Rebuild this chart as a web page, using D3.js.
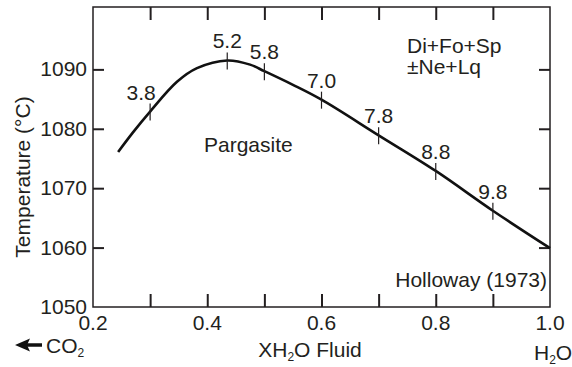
<!DOCTYPE html>
<html><head><meta charset="utf-8">
<script src="https://cdn.jsdelivr.net/npm/d3@7"></script>
<style>
html,body{margin:0;padding:0;background:#fff;}
text{font-family:"Liberation Sans",Arial,Helvetica,sans-serif;fill:#231f20;}
</style></head>
<body>
<svg id="chart" width="572" height="367"></svg>
<script>
// Data
const curveX = [0.244, 0.27, 0.3, 0.347, 0.382, 0.435, 0.475, 0.5, 0.55, 0.6, 0.7, 0.8, 0.9, 1.0];
const curveT = [1076.1, 1079.4, 1082.9, 1087.9, 1090.2, 1091.5, 1090.8, 1089.7, 1087.4, 1084.9, 1078.9, 1072.9, 1066.2, 1059.9];
const markX = [0.3, 0.435, 0.5, 0.6, 0.7, 0.8, 0.9];
const markT = [1082.9, 1091.5, 1089.7, 1084.9, 1078.9, 1072.9, 1066.2];
const markLabels = ["3.8", "5.2", "5.8", "7.0", "7.8", "8.8", "9.8"];
const xTickLabels = [0.2, 0.4, 0.6, 0.8, 1.0];
const xMinorTicks = [0.3, 0.4, 0.5, 0.6, 0.7, 0.8, 0.9];
const yTickLabels = [1050, 1060, 1070, 1080, 1090];
const yInnerTicks = [1060, 1070, 1080, 1090];

const svg = d3.select("#chart");
const L = 93, R = 550, T = 7, B = 307;
const x = d3.scaleLinear().domain([0.2, 1.0]).range([L, R]);
const y = d3.scaleLinear().domain([1050, 1100.5]).range([B, T]);
const ink = "#231f20";
const FS = 21;

// frame
svg.append("rect").attr("x", L).attr("y", T).attr("width", R - L).attr("height", B - T)
  .attr("fill", "none").attr("stroke", ink).attr("stroke-width", 1.5);

function styleAxis(g) {
  g.select(".domain").remove();
  g.selectAll(".tick line").attr("stroke", ink).attr("stroke-width", 2);
  g.selectAll(".tick text").remove();
}
svg.append("g").attr("transform", `translate(0,${B})`)
  .call(d3.axisTop(x).tickValues(xMinorTicks).tickSize(13)).call(styleAxis);
svg.append("g").attr("transform", `translate(0,${T})`)
  .call(d3.axisBottom(x).tickValues(xMinorTicks).tickSize(13)).call(styleAxis);
svg.append("g").attr("transform", `translate(${L},0)`)
  .call(d3.axisRight(y).tickValues(yInnerTicks).tickSize(11)).call(styleAxis);
svg.append("g").attr("transform", `translate(${R},0)`)
  .call(d3.axisLeft(y).tickValues(yInnerTicks).tickSize(11)).call(styleAxis);

// tick labels
svg.append("g").selectAll("text").data(xTickLabels).join("text")
  .attr("x", d => x(d)).attr("y", B + 23).attr("text-anchor", "middle")
  .attr("font-size", FS).text(d => d.toFixed(1));
svg.append("g").selectAll("text").data(yTickLabels).join("text")
  .attr("x", L - 6).attr("y", d => y(d) + 7).attr("text-anchor", "end")
  .attr("font-size", FS).text(d => d);

// curve
const pts = curveX.map((d, i) => [x(d), y(curveT[i])]);
svg.append("path").attr("d", d3.line().curve(d3.curveCatmullRom.alpha(0.5))(pts))
  .attr("fill", "none").attr("stroke", "#111").attr("stroke-width", 2.6);

// markers on curve
svg.append("g").selectAll("line").data(markX).join("line")
  .attr("x1", d => x(d)).attr("x2", d => x(d))
  .attr("y1", (d, i) => y(markT[i]) - 8).attr("y2", (d, i) => y(markT[i]) + 9)
  .attr("stroke", ink).attr("stroke-width", 1.2);
svg.append("g").selectAll("text").data(markX).join("text")
  .attr("x", (d, i) => x(d) - (i === 0 ? 9 : 0)).attr("y", (d, i) => y(markT[i]) - 12)
  .attr("text-anchor", "middle").attr("font-size", FS).text((d, i) => markLabels[i]);

// annotations
svg.append("text").attr("x", 204).attr("y", 152).attr("font-size", FS).text("Pargasite");
svg.append("text").attr("x", 407).attr("y", 53).attr("font-size", FS).text("Di+Fo+Sp");
svg.append("text").attr("x", 407).attr("y", 74).attr("font-size", FS).text("±Ne+Lq");
svg.append("text").attr("x", 547).attr("y", 287).attr("text-anchor", "end").attr("font-size", FS).text("Holloway (1973)");

// axis titles
svg.append("text").attr("transform", "translate(30,177) rotate(-90)")
  .attr("text-anchor", "middle").attr("font-size", FS).text("Temperature (°C)");
const xt = svg.append("text").attr("x", 310).attr("y", 357).attr("text-anchor", "middle").attr("font-size", FS);
xt.append("tspan").text("XH");
xt.append("tspan").attr("font-size", 12).attr("dy", 4).text("2");
xt.append("tspan").attr("dy", -4).text("O Fluid");

// CO2 arrow
svg.append("line").attr("x1", 26).attr("x2", 42).attr("y1", 345).attr("y2", 345)
  .attr("stroke", "#111").attr("stroke-width", 3.5);
svg.append("path").attr("d", "M15,345 L30,338.5 L27,345 L30,351.5 Z").attr("fill", "#111");
const co = svg.append("text").attr("x", 46).attr("y", 353).attr("font-size", FS);
co.append("tspan").text("CO");
co.append("tspan").attr("font-size", 12).attr("dy", 4).text("2");

const h2o = svg.append("text").attr("x", 534).attr("y", 360).attr("font-size", FS);
h2o.append("tspan").text("H");
h2o.append("tspan").attr("font-size", 12).attr("dy", 4).text("2");
h2o.append("tspan").attr("dy", -4).text("O");
</script>
</body></html>
